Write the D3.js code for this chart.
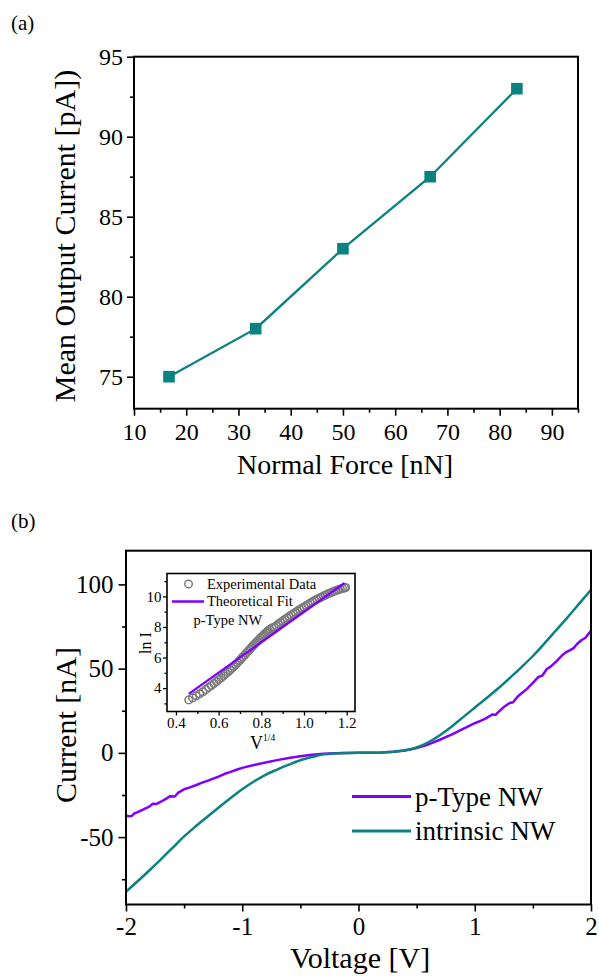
<!DOCTYPE html>
<html><head><meta charset="utf-8">
<script src="https://cdn.jsdelivr.net/npm/d3@7"></script>
<style>
body{margin:0;background:#fff}
svg{display:block}
text{font-family:"Liberation Serif","Times New Roman",serif;fill:#000}
</style>
</head><body>
<svg id="c" width="599" height="976"></svg>
<script>
// ---------- Panel (a) data ----------
const forceNN = [16.7, 33.3, 50, 66.7, 83.3];
const meanCurrentPA = [75, 78, 83, 87.5, 93];
const forceTicks = [10, 20, 30, 40, 50, 60, 70, 80, 90];
const forceMinor = [15, 25, 35, 45, 55, 65, 75, 85, 95];
const currentTicksA = [75, 80, 85, 90, 95];
const currentMinorA = [77.5, 82.5, 87.5, 92.5];

// ---------- Panel (b) data ----------
const voltTicks = [-2, -1, 0, 1, 2];
const voltMinor = [-1.5, -0.5, 0.5, 1.5];
const currTicksB = [-50, 0, 50, 100];
const currMinorB = [-75, -25, 25, 75];

const intrinsicV = [-2.0,-1.9,-1.8,-1.7,-1.6,-1.5,-1.4,-1.3,-1.2,-1.1,-1.0,-0.9,-0.8,-0.7,-0.6,-0.5,-0.4,-0.3,-0.2,-0.1,
  0.0,0.1,0.2,0.3,0.4,0.5,0.6,0.7,0.8,0.9,1.0,1.1,1.2,1.3,1.4,1.5,1.6,1.7,1.8,1.9,2.0];
const intrinsicI = [-82.4,-76.2,-69.8,-63.2,-56.4,-49.6,-43.6,-37.9,-32.3,-26.8,-21.6,-17.0,-13.0,-9.9,-7.0,-4.4,-2.5,-0.9,-0.3,-0.1,
  0.0,0.05,0.2,0.6,1.5,3.2,6.3,10.5,15.5,21.2,26.8,32.4,38.2,44.4,50.8,57.5,65.0,72.8,80.6,88.7,96.8];

const pTypeV = [-2.00,-1.97,-1.95,-1.93,-1.90,-1.85,-1.80,-1.77,-1.74,-1.70,-1.65,-1.62,-1.58,-1.55,-1.50,-1.45,-1.40,-1.35,-1.30,-1.25,
  -1.20,-1.15,-1.10,-1.05,-1.00,-0.90,-0.80,-0.70,-0.60,-0.50,-0.40,-0.30,-0.20,-0.10,0.00,0.10,0.20,0.30,0.40,0.50,
  0.60,0.70,0.80,0.90,1.00,1.05,1.10,1.15,1.18,1.20,1.25,1.30,1.33,1.37,1.40,1.45,1.47,1.50,1.55,1.58,
  1.62,1.65,1.70,1.75,1.78,1.82,1.85,1.88,1.92,1.95,2.00];
const pTypeI = [-37.3,-37.6,-37.4,-36.0,-35.2,-33.6,-31.9,-30.2,-30.4,-29.0,-27.0,-25.7,-25.9,-23.6,-21.6,-20.5,-19.2,-17.8,-16.6,-15.3,
  -14.0,-12.4,-11.3,-10.0,-8.9,-7.2,-5.7,-4.3,-3.0,-2.0,-1.1,-0.5,-0.2,-0.05,0.0,0.05,0.2,0.6,1.4,2.9,
  5.0,7.8,10.8,14.3,17.6,19.0,20.6,22.8,22.6,24.0,27.2,29.6,30.0,33.5,35.2,38.0,39.5,41.5,45.2,45.8,
  49.8,51.0,54.2,57.8,59.5,61.0,62.2,64.6,67.0,68.2,72.4];

// ---------- Inset data ----------
const insetXTicks = [0.4, 0.6, 0.8, 1.0, 1.2];
const insetXMinor = [0.5, 0.7, 0.9, 1.1];
const insetYTicks = [4, 6, 8, 10];
const insetYMinor = [3, 5, 7, 9, 11];
const expX = [0.460,0.478,0.495,0.511,0.526,0.540,0.553,0.566,0.578,0.590,0.601,0.612,0.623,0.633,0.643,0.653,0.662,0.671,0.680,0.689,
  0.698,0.706,0.714,0.722,0.730,0.738,0.746,0.753,0.760,0.767,0.774,0.781,0.788,0.795,0.802,0.809,0.815,0.821,0.827,0.833,
  0.840,0.850,0.860,0.870,0.880,0.890,0.900,0.910,0.920,0.930,0.940,0.950,0.960,0.970,0.980,0.990,1.000,1.010,1.020,1.030,
  1.040,1.050,1.060,1.070,1.080,1.090,1.100,1.110,1.120,1.130,1.140,1.150,1.160,1.170,1.180,1.190,1.195];
const expLnI = [3.23,3.36,3.50,3.63,3.76,3.90,4.05,4.17,4.30,4.43,4.56,4.68,4.81,4.93,5.05,5.17,5.29,5.41,5.54,5.67,
  5.80,5.93,6.05,6.17,6.30,6.42,6.54,6.65,6.76,6.87,6.97,7.07,7.17,7.27,7.36,7.45,7.53,7.61,7.69,7.76,
  7.84,7.93,7.98,8.08,8.19,8.29,8.39,8.49,8.59,8.68,8.78,8.87,8.96,9.05,9.14,9.23,9.31,9.40,9.48,9.57,
  9.65,9.73,9.81,9.88,9.95,10.02,10.08,10.15,10.21,10.27,10.33,10.38,10.43,10.48,10.52,10.56,10.58];
const fitX = [0.46, 1.19];
const fitLnI = [3.62, 10.88];

const TEAL = "#0a8282", PURPLE = "#8000ff";
const svg = d3.select("#c");

function styleAxis(g, size) {
  g.select(".domain").remove();
  g.selectAll(".tick line").attr("stroke", "#000").attr("stroke-width", 1.6);
  g.selectAll(".tick text").style("font-size", size + "px");
}
function frame(x0, x1, y0, y1, w) {
  svg.append("rect").attr("x", x0).attr("y", y0).attr("width", x1 - x0).attr("height", y1 - y0)
    .attr("fill", "none").attr("stroke", "#000").attr("stroke-width", w);
}

// ================= Panel (a) =================
{
  const L = 134, R = 578, T = 56.7, B = 408.7;
  const x = d3.scaleLinear().domain([10, 95]).range([L, R]);
  const y = d3.scaleLinear().domain([73, 95]).range([B, T]);

  svg.append("g").attr("transform", `translate(0,${B})`)
    .call(d3.axisBottom(x).tickValues(forceTicks).tickSize(7).tickPadding(7).tickFormat(d => String(d)))
    .call(g => styleAxis(g, 24));
  svg.append("g").attr("transform", `translate(0,${B})`)
    .call(d3.axisBottom(x).tickValues(forceMinor).tickSize(4).tickFormat(""))
    .call(g => styleAxis(g, 24));
  svg.append("g").attr("transform", `translate(${L},0)`)
    .call(d3.axisLeft(y).tickValues(currentTicksA).tickSize(7).tickPadding(4).tickFormat(d => String(d)))
    .call(g => styleAxis(g, 24));
  svg.append("g").attr("transform", `translate(${L},0)`)
    .call(d3.axisLeft(y).tickValues(currentMinorA).tickSize(4).tickFormat(""))
    .call(g => styleAxis(g, 24));

  const pts = forceNN.map((f, i) => [f, meanCurrentPA[i]]);
  svg.append("path").datum(pts)
    .attr("d", d3.line().x(d => x(d[0])).y(d => y(d[1])))
    .attr("fill", "none").attr("stroke", TEAL).attr("stroke-width", 2.3);
  svg.append("g").selectAll("rect").data(pts).join("rect")
    .attr("x", d => x(d[0]) - 5.8).attr("y", d => y(d[1]) - 5.8)
    .attr("width", 11.6).attr("height", 11.6).attr("fill", TEAL);

  frame(L, R, T, B, 2);

  svg.append("text").attr("x", 345).attr("y", 474).attr("text-anchor", "middle")
    .style("font-size", "28px").text("Normal Force [nN]");
  svg.append("text").attr("transform", `translate(75,236) rotate(-90)`).attr("text-anchor", "middle")
    .style("font-size", "30px").text("Mean Output Current [pA])");
  svg.append("text").attr("x", 11).attr("y", 30).style("font-size", "21px").text("(a)");
}

// ================= Panel (b) =================
{
  const L = 126, R = 591, T = 550.7, B = 904.5;
  const x = d3.scaleLinear().domain([-2, 2]).range([L, R]);
  const y = d3.scaleLinear().domain([-90, 120]).range([B, T]);

  svg.append("g").attr("transform", `translate(0,${B})`)
    .call(d3.axisBottom(x).tickValues(voltTicks).tickSize(7).tickPadding(6).tickFormat(d => String(d)))
    .call(g => styleAxis(g, 25));
  svg.append("g").attr("transform", `translate(0,${B})`)
    .call(d3.axisBottom(x).tickValues(voltMinor).tickSize(4).tickFormat(""))
    .call(g => styleAxis(g, 25));
  svg.append("g").attr("transform", `translate(${L},0)`)
    .call(d3.axisLeft(y).tickValues(currTicksB).tickSize(7.5).tickPadding(5).tickFormat(d => String(d)))
    .call(g => styleAxis(g, 25));
  svg.append("g").attr("transform", `translate(${L},0)`)
    .call(d3.axisLeft(y).tickValues(currMinorB).tickSize(4).tickFormat(""))
    .call(g => styleAxis(g, 25));

  const line = d3.line().x(d => x(d[0])).y(d => y(d[1]));
  svg.append("path").datum(pTypeV.map((v, i) => [v, pTypeI[i]]))
    .attr("d", line).attr("fill", "none").attr("stroke", PURPLE).attr("stroke-width", 2.5)
    .attr("stroke-linejoin", "round");
  svg.append("path").datum(intrinsicV.map((v, i) => [v, intrinsicI[i]]))
    .attr("d", d3.line().curve(d3.curveMonotoneX).x(d => x(d[0])).y(d => y(d[1])))
    .attr("fill", "none").attr("stroke", TEAL).attr("stroke-width", 2.5)
    .attr("stroke-linejoin", "round");

  frame(L, R, T, B, 2);

  // legend
  const leg = [{name: "p-Type NW", c: PURPLE, y: 796.5}, {name: "intrinsic NW", c: TEAL, y: 831}];
  leg.forEach(d => {
    svg.append("line").attr("x1", 352).attr("x2", 411).attr("y1", d.y).attr("y2", d.y)
      .attr("stroke", d.c).attr("stroke-width", 2.8);
    svg.append("text").attr("x", 415).attr("y", d.y + 9).style("font-size", "27px").text(d.name);
  });

  svg.append("text").attr("x", 360).attr("y", 968).attr("text-anchor", "middle")
    .style("font-size", "30px").text("Voltage [V]");
  svg.append("text").attr("transform", `translate(76,725) rotate(-90)`).attr("text-anchor", "middle")
    .style("font-size", "30px").text("Current [nA]");
  svg.append("text").attr("x", 11).attr("y", 528).style("font-size", "21px").text("(b)");

  // ---------- inset ----------
  const iL = 167, iR = 355, iT = 573.5, iB = 711.5;
  const ix = d3.scaleLinear().domain([0.358, 1.239]).range([iL, iR]);
  const iy = d3.scaleLinear().domain([2.47, 11.5]).range([iB, iT]);

  svg.append("rect").attr("x", iL).attr("y", iT).attr("width", iR - iL).attr("height", iB - iT).attr("fill", "#fff");

  const insetAxes = svg.append("g");
  insetAxes.append("g").attr("transform", `translate(0,${iB})`)
    .call(d3.axisBottom(ix).tickValues(insetXTicks).tickSize(4).tickPadding(2).tickFormat(d => d.toFixed(1)))
    .call(g => styleAxis(g, 15));
  insetAxes.append("g").attr("transform", `translate(0,${iB})`)
    .call(d3.axisBottom(ix).tickValues(insetXMinor).tickSize(2.5).tickFormat(""))
    .call(g => styleAxis(g, 15));
  insetAxes.append("g").attr("transform", `translate(${iL},0)`)
    .call(d3.axisLeft(iy).tickValues(insetYTicks).tickSize(4).tickPadding(1.5).tickFormat(d => String(d)))
    .call(g => styleAxis(g, 15));
  insetAxes.append("g").attr("transform", `translate(${iL},0)`)
    .call(d3.axisLeft(iy).tickValues(insetYMinor).tickSize(2.5).tickFormat(""))
    .call(g => styleAxis(g, 15));
  insetAxes.selectAll(".tick line").attr("stroke-width", 1.3);

  svg.append("g").selectAll("circle").data(expX.map((v, i) => [v, expLnI[i]])).join("circle")
    .attr("cx", d => ix(d[0])).attr("cy", d => iy(d[1])).attr("r", 3.8)
    .attr("fill", "none").attr("stroke", "#7a7a7a").attr("stroke-width", 1.5);
  svg.append("path").datum(fitX.map((v, i) => [v, fitLnI[i]]))
    .attr("d", d3.line().x(d => ix(d[0])).y(d => iy(d[1])))
    .attr("fill", "none").attr("stroke", PURPLE).attr("stroke-width", 2.3);

  frame(iL, iR, iT, iB, 1.6);

  // inset legend
  svg.append("circle").attr("cx", 188.5).attr("cy", 584).attr("r", 3.8)
    .attr("fill", "none").attr("stroke", "#7a7a7a").attr("stroke-width", 1.4);
  svg.append("text").attr("x", 207).attr("y", 588.5).style("font-size", "14.5px").text("Experimental Data");
  svg.append("line").attr("x1", 172).attr("x2", 204).attr("y1", 601.5).attr("y2", 601.5)
    .attr("stroke", PURPLE).attr("stroke-width", 2.5);
  svg.append("text").attr("x", 207).attr("y", 606).style("font-size", "14.5px").text("Theoretical Fit");
  svg.append("text").attr("x", 193.5).attr("y", 624.5).style("font-size", "14.5px").text("p-Type NW");

  svg.append("text").attr("transform", `translate(151,643) rotate(-90)`).attr("text-anchor", "middle")
    .style("font-size", "16px").text("ln I");
  const vt = svg.append("text").attr("x", 250).attr("y", 749).style("font-size", "18px");
  vt.append("tspan").text("V");
  vt.append("tspan").attr("dy", -8).style("font-size", "9.5px").text("1/4");
}
</script>
</body></html>
